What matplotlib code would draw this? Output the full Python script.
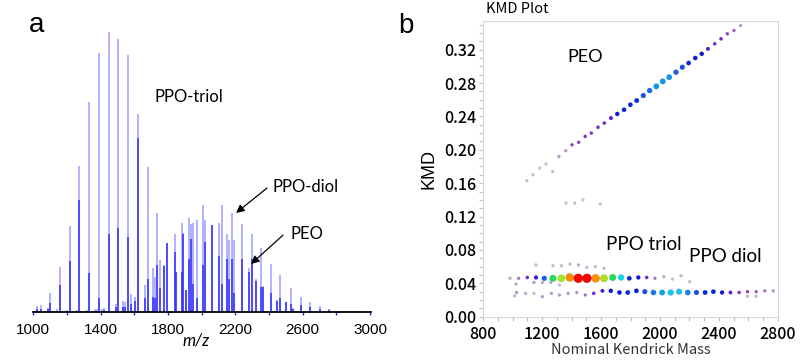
import numpy as np
import matplotlib
matplotlib.use("Agg")
import matplotlib.pyplot as plt
from matplotlib.colors import LinearSegmentedColormap
from matplotlib.ticker import MultipleLocator

# ---- panel a: MALDI spectrum (relative intensity, tallest peak = 100)
peak_mz = [1010, 1024, 1046, 1085, 1099, 1141, 1158, 1200, 1216, 1258,
           1273, 1316, 1332, 1366, 1376, 1390, 1405, 1420, 1447, 1490,
           1505, 1530, 1542, 1562, 1578, 1605, 1620, 1661, 1679, 1709,
           1720, 1734, 1752, 1778, 1795, 1839, 1849, 1884, 1890, 1908,
           1926, 1934, 1950, 1970, 2007, 2017, 2061, 2102, 2122, 2148,
           2163, 2181, 2191, 2237, 2278, 2296, 2320, 2355, 2367, 2413,
           2450, 2468, 2498, 2528, 2540, 2587, 2642, 2700, 2759, 2816,
           2876, 2934]
peak_int = [0.6, 2.3, 2.6, 1.7, 7.0, 1.2, 16.3, 0.8, 30.9, 0.9,
            52.3, 0.9, 74.8, 1.0, 1.0, 92.5, 1.2, 1.5, 100, 2.8,
            97.3, 4.0, 3.8, 91.7, 6.4, 5.6, 70.5, 9.7, 51.7, 15.7,
            12.7, 35.5, 18.6, 16.9, 24.6, 27.8, 14.5, 32.0, 28.3, 8.0,
            33.7, 31.6, 31.8, 33.0, 38.2, 33.0, 31.1, 31.7, 38.2, 27.8,
            25.8, 35.5, 25.8, 31.6, 15.7, 27.8, 11.9, 23.0, 9.4, 17.2,
            4.3, 13.3, 3.6, 8.8, 1.5, 5.6, 3.8, 2.4, 1.3, 0.6,
            0.5, 0.3]
# height of the darker (overlapping isotope) part of each peak
peak_iso = [0.3, 1.2, 1.0, 1.0, 3.2, 0.5, 9.7, 0.5, 18.3, 0.5,
            40, 0.5, 13.9, 0.5, 0.5, 5, 0.5, 0.8, 28, 2,
            30, 2, 2, 27, 3, 4, 62, 5, 12, 5.6,
            5, 17, 8.5, 16.6, 24.6, 21.6, 14.2, 14.5, 28, 8,
            19, 26, 10, 5, 17, 25, 31, 20, 10, 19,
            12, 19, 7, 19, 14.5, 19, 11, 9, 9, 7,
            4, 5, 3.6, 3, 1, 2.5, 2, 1.2, 0.7, 0.3,
            0.3, 0.2]

# ---- panel b: KMD plot (nominal Kendrick mass, KMD, abundance 0-100)
peo_mass = [1095, 1138, 1183, 1226, 1271, 1314, 1360, 1403, 1448, 1492,
            1534, 1579, 1622, 1667, 1710, 1756, 1799, 1842, 1887, 1930,
            1975, 2019, 2063, 2109, 2152, 2195, 2240, 2284, 2326, 2372,
            2415, 2458, 2503, 2548, 1362, 1421, 1477, 1595]
peo_kmd = [0.163, 0.170, 0.178, 0.183, 0.174, 0.192, 0.199, 0.206, 0.209, 0.216,
           0.220, 0.227, 0.232, 0.238, 0.243, 0.248, 0.254, 0.259, 0.265, 0.271,
           0.276, 0.282, 0.287, 0.293, 0.299, 0.304, 0.310, 0.315, 0.321, 0.327,
           0.333, 0.339, 0.343, 0.349, 0.136, 0.136, 0.140, 0.135]
peo_abund = [2, 2, 2, 2, 2, 5, 5, 8, 8, 10,
             10, 12, 12, 18, 25, 28, 30, 32, 36, 40,
             45, 45, 45, 38, 36, 30, 28, 25, 18, 12,
             12, 8, 7, 5, 2, 2, 2, 2]

triol_mass = [981, 1040, 1099, 1158, 1214, 1273, 1330, 1387, 1445, 1504,
              1563, 1620, 1679, 1736, 1792, 1853, 1910, 1966, 2027, 2086,
              2143, 1157, 1273, 1331, 1388, 1446, 1503, 1561, 1620, 1022,
              1144, 1201, 1258, 1317, 2202]
triol_kmd = [0.046, 0.046, 0.047, 0.047, 0.046, 0.046, 0.046, 0.047, 0.046, 0.046,
             0.046, 0.046, 0.047, 0.047, 0.046, 0.047, 0.047, 0.046, 0.048, 0.045,
             0.049, 0.062, 0.061, 0.061, 0.063, 0.062, 0.059, 0.060, 0.058, 0.039,
             0.041, 0.041, 0.041, 0.038, 0.042]
triol_abund = [4, 6, 12, 22, 38, 62, 72, 85, 100, 100,
               85, 74, 62, 52, 30, 24, 12, 6, 4, 2,
               3, 3, 3, 3, 3, 4, 3, 3, 3, 4,
               5, 4, 4, 3, 2]

diol_mass = [1026, 1087, 1144, 1201, 1262, 1317, 1376, 1435, 1493, 1550,
             1609, 1666, 1725, 1781, 1840, 1897, 1956, 2015, 2073, 2130,
             2189, 2248, 2307, 2363, 2422, 2479, 2538, 2595, 2654, 2712,
             2770, 1012, 2595, 2654]
diol_kmd = [0.029, 0.028, 0.028, 0.024, 0.028, 0.026, 0.028, 0.029, 0.026, 0.028,
            0.031, 0.031, 0.029, 0.029, 0.031, 0.030, 0.029, 0.029, 0.029, 0.030,
            0.029, 0.029, 0.029, 0.030, 0.029, 0.029, 0.029, 0.030, 0.030, 0.031,
            0.031, 0.025, 0.0245, 0.0245]
diol_abund = [5, 4, 3, 5, 5, 5, 5, 5, 6, 12,
              18, 26, 28, 30, 30, 36, 42, 46, 50, 50,
              42, 36, 32, 30, 24, 16, 10, 8, 7, 6,
              5, 3, 3, 3]


fig = plt.figure(figsize=(8, 3.63), dpi=100)

# ---------------- panel a
ax1 = fig.add_axes([32.5 / 800, (363 - 312.3) / 363, 338.4 / 800, 280.6 / 363])
ax1.vlines(peak_mz, 0, peak_int, color='#9c9cff', lw=1.1)
ax1.vlines(peak_mz, 0, peak_iso, color='#3030ff', lw=1.1)
ax1.set_xlim(995, 3005)
ax1.set_ylim(0, 100)
for s in ['top', 'right', 'left']:
    ax1.spines[s].set_visible(False)
ax1.spines['bottom'].set_linewidth(1.3)
ax1.set_yticks([])
ax1.set_xticks(np.arange(1000, 3001, 400))
ax1.xaxis.set_minor_locator(MultipleLocator(200))
ax1.tick_params(axis='x', which='both', length=2.5, width=1, color='#2828c8',
                direction='out', pad=5, labelsize=11)
for lbl in ax1.get_xticklabels():
    lbl.set_family('Liberation Sans')

ax1.text(1922, 76.7, 'PPO-triol', ha='center', va='center', fontsize=12, family='Lato')
ax1.text(2422, 44.7, 'PPO-diol', ha='left', va='center', fontsize=12, family='Lato')
ax1.text(2525, 27.9, 'PEO', ha='left', va='center', fontsize=12, family='Lato')
arrow = dict(arrowstyle='-|>', color='black', lw=0.9, mutation_scale=12,
             shrinkA=0, shrinkB=0)
ax1.annotate('', xy=(2204, 35.4), xytext=(2388, 44.3), arrowprops=arrow)
ax1.annotate('', xy=(2293, 17.2), xytext=(2483, 27.5), arrowprops=arrow)

fig.text(196 / 800, 1 - 340 / 363, 'm/z', style='italic', fontsize=12,
         family='Lato', ha='center', va='center')
fig.text(29 / 800, 1 - 32 / 363, 'a', fontsize=20, family='Liberation Sans',
         ha='left', va='baseline')

# ---------------- panel b
ax2 = fig.add_axes([483.3 / 800, (363 - 316.7) / 363, 294.4 / 800, 295.4 / 363])
cmap = LinearSegmentedColormap.from_list('kmd', [
    (0.0, '#dcdcdc'), (0.04, '#c4acdc'), (0.08, '#9030d0'), (0.15, '#6a1cd8'),
    (0.25, '#1010e8'), (0.32, '#0030e8'), (0.38, '#1a60e0'), (0.45, '#0a98f0'),
    (0.52, '#10d8f0'), (0.62, '#20e050'), (0.72, '#a0ee20'), (0.85, '#ff8c00'),
    (1.0, '#ff0000')])

mass = np.concatenate([peo_mass, triol_mass, diol_mass])
kmd = np.concatenate([peo_kmd, triol_kmd, diol_kmd])
abund = np.concatenate([peo_abund, triol_abund, diol_abund]).astype(float)
order = np.argsort(abund)
diam = 2.6 + 0.065 * abund[order]   # marker diameter in pixels
ax2.scatter(mass[order], kmd[order], c=abund[order], cmap=cmap, vmin=0, vmax=100,
            s=(diam * 0.72) ** 2, edgecolors=(0, 0, 0, 0.2), linewidths=0.35,
            zorder=3)

ax2.set_xlim(800, 2800)
ax2.set_ylim(0, 0.354)
ax2.set_xticks(np.arange(800, 2801, 400))
ax2.xaxis.set_minor_locator(MultipleLocator(100))
ax2.set_yticks(np.arange(0, 0.33, 0.04))
ax2.set_yticklabels(['%.2f' % v for v in np.arange(0, 0.33, 0.04)])
ax2.yaxis.set_minor_locator(MultipleLocator(0.01))
for s in ax2.spines.values():
    s.set_color('#d8d8d8')
    s.set_linewidth(0.8)
ax2.tick_params(which='both', direction='out', length=3, width=0.8,
                color='#c0c0c0', labelsize=11.5, pad=2)
ax2.tick_params(axis='x', pad=4)
for lbl in ax2.get_xticklabels() + ax2.get_yticklabels():
    lbl.set_family('Noto Sans CJK JP')
    lbl.set_fontweight('medium')

ax2.set_ylabel('KMD', fontsize=13, family='Liberation Sans', labelpad=5)
ax2.set_xlabel('Nominal Kendrick Mass', fontsize=10.5, family='Noto Sans CJK JP',
               color='#333333', labelpad=0)

ax2.text(1491, 0.311, 'PEO', ha='center', va='center', fontsize=13, family='Lato')
ax2.text(1888, 0.0871, 'PPO triol', ha='center', va='center', fontsize=13.5, family='Lato')
ax2.text(2442, 0.0716, 'PPO diol', ha='center', va='center', fontsize=13.5, family='Lato')

fig.text(486 / 800, 1 - 9 / 363, 'KMD Plot', fontsize=10.5, family='Noto Sans CJK JP',
         ha='left', va='center')
fig.text(398 / 800, 1 - 33 / 363, 'b', fontsize=20, family='Liberation Sans',
         ha='left', va='baseline')

fig.savefig('out.png', dpi=100)
